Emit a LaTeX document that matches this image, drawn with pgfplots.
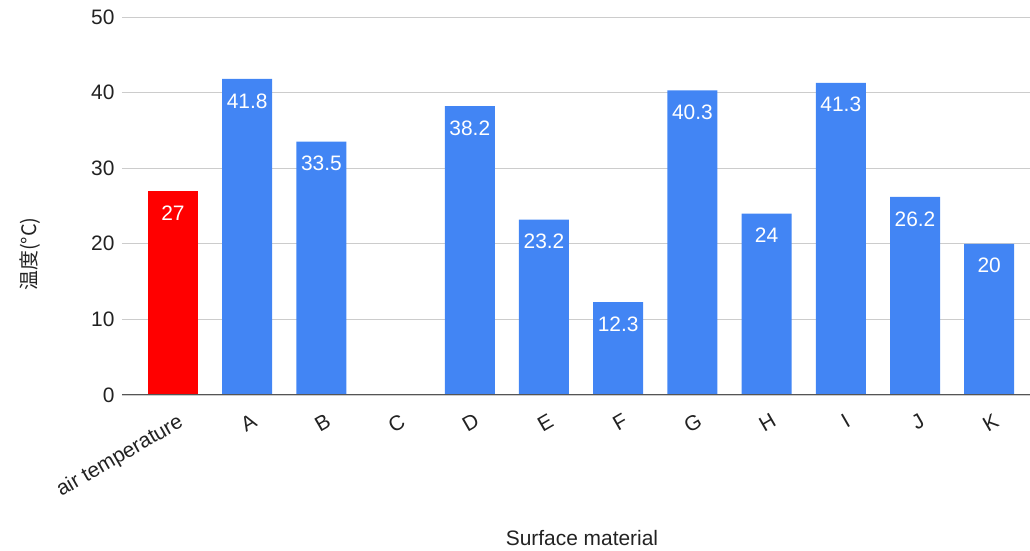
\documentclass[border=0pt]{standalone}
\usepackage{pgfplots}
\pgfplotsset{compat=1.18}
\usepackage{fontspec}
\setmainfont{Liberation Sans}
\newfontfamily\cjk{Noto Sans CJK JP}

\definecolor{barblue}{HTML}{4285F4}
\definecolor{barred}{HTML}{FF0000}
\definecolor{gridgray}{HTML}{CCCCCC}
\definecolor{textdark}{HTML}{222222}
\definecolor{baseline}{HTML}{555555}

\begin{document}
\begin{tikzpicture}[x=1bp,y=1bp]
\useasboundingbox (-122,-156) rectangle (908,395);
\begin{axis}[
  at={(0,0)}, anchor=south west,
  scale only axis,
  width=908bp, height=378bp,
  xmin=-0.687, xmax=11.55,
  ymin=0, ymax=50,
  ytick={0,10,20,30,40,50},
  xtick={0,1,2,3,4,5,6,7,8,9,10,11},
  xticklabels={air temperature,A,B,C,D,E,F,G,H,I,J,K},
  major tick length=0pt,
  axis line style={draw=none},
  ymajorgrids,
  grid style={color=gridgray, line width=0.9bp},
  /pgf/number format/assume math mode=true,
  tick label style={font=\fontsize{21}{24}\selectfont, text=textdark},
  yticklabel style={anchor=east, xshift=-4bp},
  xticklabel style={anchor=north east, xshift=5bp, yshift=-13bp, rotate=30},
  ybar, bar width=50bp, bar shift=0pt,
  nodes near coords,
  every node near coord/.append style={anchor=north, yshift=-11bp, text=white,
    font=\fontsize{21}{24}\selectfont},
  xlabel={Surface material},
  xlabel style={at={(axis description cs:0.5066,-0.378)}, anchor=center,
    font=\fontsize{21}{24}\selectfont, text=textdark},
  ylabel={\cjk 温度(°C)},
  ylabel style={at={(axis description cs:-0.1013,0.373)}, anchor=center, rotate=0,
    font=\fontsize{20}{24}\selectfont, text=textdark},
]
% reference value: air temperature
\addplot[fill=barred, draw=none] coordinates {(0,27)};
% surface temperatures by material (C was not measured)
\addplot[fill=barblue, draw=none] coordinates {
  (1,41.8) (2,33.5) (4,38.2) (5,23.2) (6,12.3) (7,40.3)
  (8,24) (9,41.3) (10,26.2) (11,20)
};
\draw[color=baseline, line width=1.3bp] (rel axis cs:0,0) -- (rel axis cs:1,0);
\end{axis}
\end{tikzpicture}
\end{document}
